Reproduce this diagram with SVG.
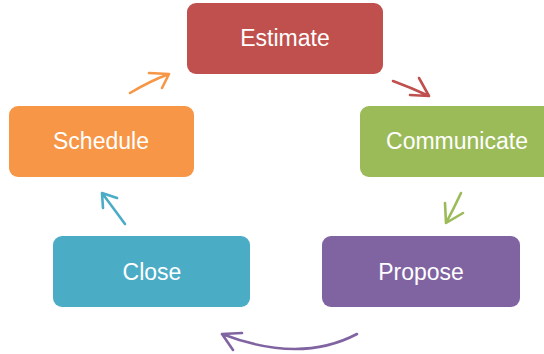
<svg xmlns="http://www.w3.org/2000/svg" width="544" height="354" viewBox="0 0 544 354">
<style>
.lbl{font-family:"Liberation Sans",Arial,sans-serif;font-size:23px;fill:#ffffff;text-anchor:middle}
.arr{fill:none;stroke-width:2.6;stroke-linecap:round;stroke-linejoin:round}
</style>
<rect width="544" height="354" fill="#ffffff"/>
<g id="estimate"><rect x="187" y="3" width="196" height="71" rx="9" fill="#C0504D"/><text class="lbl" x="285" y="46">Estimate</text></g>
<g id="communicate"><rect x="360" y="106" width="196" height="71" rx="9" fill="#9BBB59"/><text class="lbl" x="457" y="149">Communicate</text></g>
<g id="propose"><rect x="322" y="236" width="198" height="71" rx="9" fill="#8064A2"/><text class="lbl" x="421" y="280">Propose</text></g>
<g id="close"><rect x="53" y="236" width="197" height="71" rx="9" fill="#4BACC6"/><text class="lbl" x="152" y="280">Close</text></g>
<g id="schedule"><rect x="9" y="106" width="185" height="71" rx="9" fill="#F79646"/><text class="lbl" x="101" y="149">Schedule</text></g>
<g id="connectors">
<path class="arr" stroke="#F79646" d="M130 93 Q150 81 169 74 M149 73 L169 74 L162 88"/>
<path class="arr" stroke="#C0504D" d="M393 81 Q412 88 429 96 M419 78 L429 96 L410 95"/>
<path class="arr" stroke="#9BBB59" d="M461 193 Q454 208 446 223 M445 203 L446 223 L463 213"/>
<path class="arr" stroke="#4BACC6" d="M125 224 Q114 209 102 193 M103 208 L102 193 L117 198"/>
<path class="arr" stroke="#8064A2" d="M357 334 Q300 364 222 334 M242 333 L222 334 L233 350"/>
</g>
</svg>
